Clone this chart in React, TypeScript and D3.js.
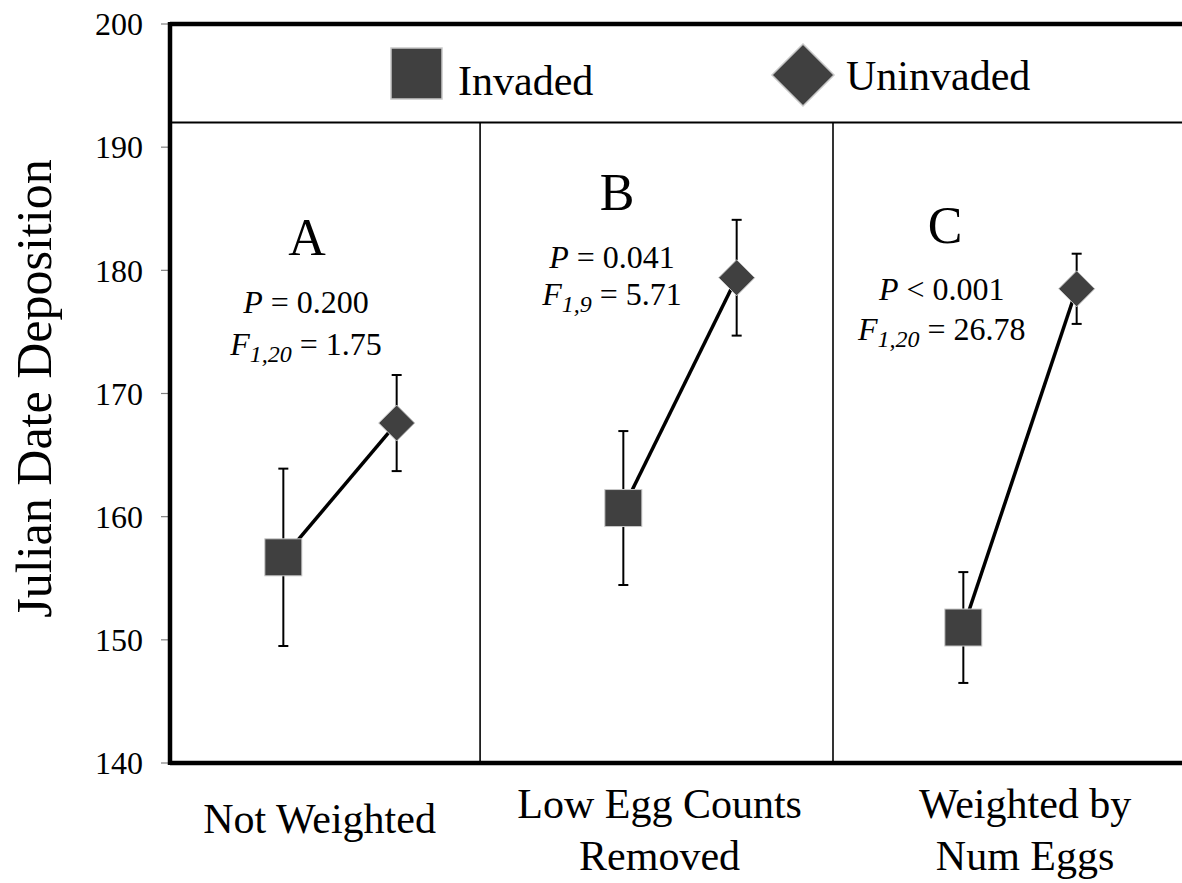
import React from "react";
import * as d3 from "d3";

// Treatment groups (analysis variants) and their x-axis labels
const groups = ["A", "B", "C"];
const groupLabels = [["Not Weighted"], ["Low Egg Counts", "Removed"], ["Weighted by", "Num Eggs"]];

// Mean Julian date of deposition and error (±) per group
const invadedMean = [156.7, 160.7, 151.0];
const invadedErr = [7.2, 6.25, 4.5];
const uninvadedMean = [167.6, 179.4, 178.5];
const uninvadedErr = [3.9, 4.7, 2.85];

// Statistics per panel
const pValues = [
  { op: "=", v: "0.200" },
  { op: "=", v: "0.041" },
  { op: "<", v: "0.001" },
];
const fDf = ["1,20", "1,9", "1,20"];
const fValues = ["1.75", "5.71", "26.78"];

const yTicks = [140, 150, 160, 170, 180, 190, 200];
const legendTop = 192;

const W = 1182;
const H = 883;
const left = 170;
const top = 24;
const bottom = 763;

const serif = "'Liberation Serif', 'Times New Roman', Times, serif";
const markFill = "#404040";
const markEdge = "#c8c8c8";

export default function App() {
  const y = d3.scaleLinear().domain([140, 200]).range([bottom, top]);
  const x = d3.scaleLinear().domain([0, 3]).range([left, left + 1020]);
  const xInv = (i: number) => x(i + 1 / 3);
  const xUninv = (i: number) => x(i + 2 / 3);

  // panel divider positions and text anchors, in x-domain units
  const dividers = [0.912, 1.95];
  const letterX = [0.403, 1.315, 2.28];
  const statX = [0.4, 1.3, 2.27];
  const catX = [0.44, 1.44, 2.515];

  const diamond = (cx: number, cy: number, r: number) =>
    `M${cx},${cy - r}L${cx + r},${cy}L${cx},${cy + r}L${cx - r},${cy}Z`;

  const line = d3.line<[number, number]>();

  // baselines of panel letters and statistics
  const letterY = [255, 210, 243];
  const pY = [313, 268, 300];
  const fY = [355, 305, 340];

  return (
    <svg
      width={W}
      height={H}
      style={{ position: "absolute", left: 0, top: 0, background: "#fff" }}
      fontFamily={serif}
    >
      <rect x={0} y={0} width={W} height={H} fill="#fff" />

      {/* y axis ticks and labels */}
      {yTicks.map((t) => (
        <g key={t}>
          <line x1={161} x2={left} y1={y(t)} y2={y(t)} stroke="#808080" strokeWidth={1.2} />
          <text x={143} y={y(t)} dy="0.35em" textAnchor="end" fontSize={32} fill="#000">
            {t}
          </text>
        </g>
      ))}

      {/* y axis title */}
      <text
        transform={`translate(51,${(top + bottom) / 2 - 5}) rotate(-90)`}
        textAnchor="middle"
        fontSize={50}
        fill="#000"
      >
        Julian Date Deposition
      </text>

      {/* legend band separator */}
      <line x1={left} x2={W} y1={y(legendTop)} y2={y(legendTop)} stroke="#000" strokeWidth={2} />

      {/* panel dividers */}
      {dividers.map((d, i) => (
        <line key={i} x1={x(d)} x2={x(d)} y1={y(legendTop)} y2={bottom} stroke="#000" strokeWidth={1.6} />
      ))}

      {/* frame: top border, left and bottom axes */}
      <line x1={left} x2={W} y1={top} y2={top} stroke="#000" strokeWidth={4.5} />
      <line x1={left} x2={left} y1={top - 2} y2={bottom + 2} stroke="#000" strokeWidth={4.5} />
      <line x1={left} x2={W} y1={bottom} y2={bottom} stroke="#000" strokeWidth={4.5} />

      {/* legend */}
      <rect x={391} y={48} width={51} height={51} fill={markFill} stroke={markEdge} strokeWidth={1.5} />
      <text x={458} y={95} fontSize={42} fill="#000">Invaded</text>
      <path d={diamond(803, 75, 31)} fill={markFill} stroke={markEdge} strokeWidth={1.5} />
      <text x={846} y={90} fontSize={42} fill="#000">Uninvaded</text>

      {groups.map((g, i) => {
        const xi = xInv(i);
        const xu = xUninv(i);
        const yi = y(invadedMean[i]);
        const yu = y(uninvadedMean[i]);
        const cap = 5;
        return (
          <g key={g}>
            {/* error bars */}
            {[
              [xi, invadedMean[i], invadedErr[i]],
              [xu, uninvadedMean[i], uninvadedErr[i]],
            ].map(([cx, m, e], k) => (
              <g key={k} stroke="#000" strokeWidth={2}>
                <line x1={cx} x2={cx} y1={y(m + e)} y2={y(m - e)} />
                <line x1={cx - cap} x2={cx + cap} y1={y(m + e)} y2={y(m + e)} />
                <line x1={cx - cap} x2={cx + cap} y1={y(m - e)} y2={y(m - e)} />
              </g>
            ))}
            {/* connecting line */}
            <path d={line([[xi, yi], [xu, yu]]) ?? ""} stroke="#000" strokeWidth={3.5} fill="none" />
            {/* markers */}
            <rect x={xi - 18.5} y={yi - 18.5} width={37} height={37} fill={markFill} stroke={markEdge} strokeWidth={1} />
            <path d={diamond(xu, yu, 18)} fill={markFill} stroke={markEdge} strokeWidth={1} />

            {/* panel letter */}
            <text x={x(letterX[i])} y={letterY[i]} textAnchor="middle" fontSize={52} fill="#000">
              {g}
            </text>
            {/* statistics */}
            <text x={x(statX[i])} y={pY[i]} textAnchor="middle" fontSize={32} fill="#000">
              <tspan fontStyle="italic">P</tspan>
              <tspan>{` ${pValues[i].op} ${pValues[i].v}`}</tspan>
            </text>
            <text x={x(statX[i])} y={fY[i]} textAnchor="middle" fontSize={32} fill="#000">
              <tspan fontStyle="italic">F</tspan>
              <tspan fontStyle="italic" fontSize={24} dy={7}>{fDf[i]}</tspan>
              <tspan dy={-7}>{` = ${fValues[i]}`}</tspan>
            </text>

            {/* category label */}
            <text x={x(catX[i])} y={groupLabels[i].length > 1 ? 818 : 833} textAnchor="middle" fontSize={42} fill="#000">
              {groupLabels[i].map((s, k) => (
                <tspan key={k} x={x(catX[i])} dy={k === 0 ? 0 : 52}>
                  {s}
                </tspan>
              ))}
            </text>
          </g>
        );
      })}
    </svg>
  );
}
